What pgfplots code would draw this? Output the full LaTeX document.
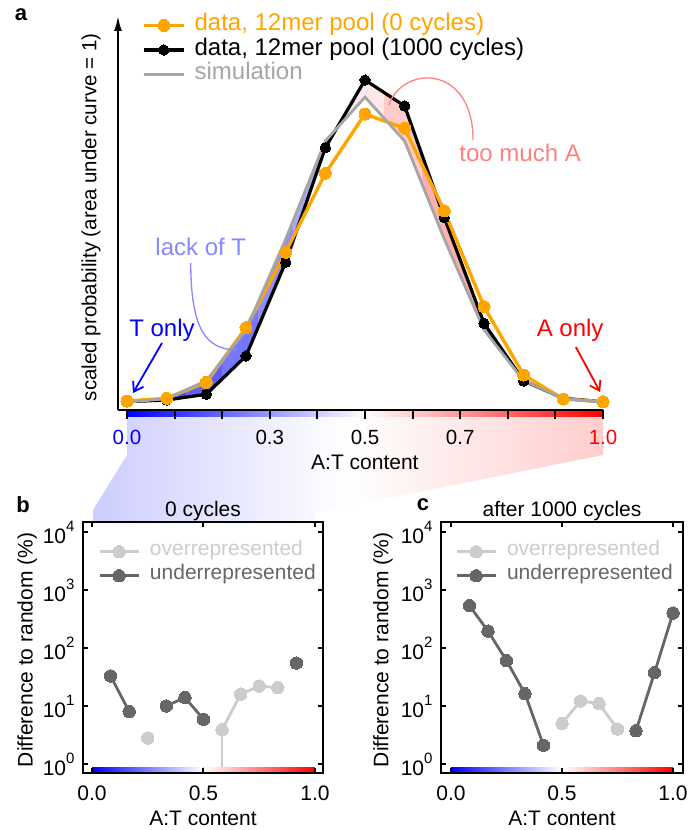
\documentclass[border=0pt]{standalone}
\usepackage{fontspec}
\setmainfont{Liberation Sans}
\usepackage{pgfplots}
\usepackage{pgfplotstable}
\pgfplotsset{compat=1.18}
\usepgfplotslibrary{fillbetween}
\usetikzlibrary{arrows.meta}

\definecolor{myorange}{RGB}{255,165,0}
\definecolor{simgray}{RGB}{165,165,165}
\definecolor{lightT}{RGB}{135,135,255}
\definecolor{lightA}{RGB}{255,128,128}
\definecolor{overc}{RGB}{204,204,204}
\definecolor{underc}{RGB}{102,102,102}
\definecolor{fillTa}{RGB}{70,70,255}
\definecolor{fillTb}{RGB}{185,185,255}
\definecolor{fillAa}{RGB}{255,232,232}
\definecolor{fillAb}{RGB}{255,175,175}
\definecolor{wedgeL}{RGB}{205,205,255}
\definecolor{wedgeR}{RGB}{255,205,205}

\newcommand\fs[1]{\fontsize{#1bp}{#1bp}\selectfont}
\newcommand\tp[1]{10\raisebox{0.57em}{\fs{15}#1}}

\pgfplotstableread{
x        o      k      s
0        0.013  0.007  0.003
0.08333  0.037  0.022  0.035
0.16667  0.179  0.073  0.193
0.25     0.664  0.413  0.645
0.33333  1.333  1.244  1.450
0.41667  2.034  2.261  2.320
0.5      2.560  2.862  2.710
0.58333  2.433  2.631  2.320
0.66667  1.700  1.640  1.450
0.75     0.850  0.703  0.645
0.83333  0.244  0.191  0.193
0.91667  0.031  0.037  0.035
1        0.007  0.007  0.003
}\toptab

\begin{document}
\begin{tikzpicture}
% zoom wedge (decoration)
\shade[left color=wedgeL, right color=wedgeR, middle color=white]
  (127bp,420bp) -- (603bp,420bp) -- (603bp,375bp) -- (315bp,317bp) -- (315bp,308bp) -- (93bp,308bp) -- (93bp,320bp) -- (127bp,375bp) -- cycle;

% ---------------- panel a ----------------
\begin{axis}[
  at={(118bp,420bp)}, anchor=south west, scale only axis,
  width=485bp, height=394bp,
  xmin=-0.0189, xmax=1, ymin=-0.0665, ymax=3.43,
  axis x line*=bottom, axis y line*=left,
  axis line style={line width=2bp},
  y axis line style={-{Latex[length=15bp,width=8bp]}},
  xtick={0,0.1,0.2,0.3,0.4,0.5,0.6,0.7,0.8,0.9,1},
  xticklabels={\textcolor{blue}{0.0},,,0.3,,0.5,,0.7,,,\textcolor{red}{1.0}},
  ytick=\empty,
  tick align=outside, major tick length=9bp, tick style={line width=2bp, black},
  xticklabel style={font=\fs{20.5}, yshift=-8bp},
  clip=false, axis on top,
  every axis x label/.style={at={(axis description cs:0.509,0)}, anchor=base, yshift=-60bp, font=\fs{21}},
  every axis y label/.style={at={(axis description cs:-0.0557,0.489)}, rotate=90, anchor=center, font=\fs{20.5}},
  xlabel={A:T content},
  ylabel={scaled probability (area under curve = 1)},
  legend style={at={(rel axis cs:0.0495,1.0076)}, anchor=north west, draw=none, fill=none,
    inner sep=0pt, font=\fs{24}, nodes={inner sep=0pt, text height=17.5bp, text depth=7bp},
    column sep=9bp, row sep=0pt},
  legend cell align=left,
  legend image code/.code={\draw[mark repeat=2, mark phase=2, #1] plot coordinates {(0bp,0bp) (20bp,0bp) (40bp,0bp)};},
]
% colour bar below the axis
\fill[left color=blue, right color=white] (axis cs:0,-0.0665) rectangle (axis cs:0.5,-0.1198);
\fill[left color=white, right color=red] (axis cs:0.5,-0.0665) rectangle (axis cs:1,-0.1198);

\addplot[draw=none, name path=sim, forget plot] table[x=x,y=s]{\toptab};
\addplot[draw=none, name path=thk, forget plot] table[x=x,y=k]{\toptab};
\addplot[fill=fillTa, draw=none, forget plot] fill between[of=sim and thk, soft clip={domain=0:0.125}];
\addplot[fill=fillTa!78!fillTb, draw=none, forget plot] fill between[of=sim and thk, soft clip={domain=0.125:0.2}];
\addplot[fill=fillTa!58!fillTb, draw=none, forget plot] fill between[of=sim and thk, soft clip={domain=0.2:0.275}];
\addplot[fill=fillTa!38!fillTb, draw=none, forget plot] fill between[of=sim and thk, soft clip={domain=0.275:0.35}];
\addplot[fill=fillTa!15!fillTb, draw=none, forget plot] fill between[of=sim and thk, soft clip={domain=0.35:0.45}];
\addplot[fill=fillAa, draw=none, forget plot] fill between[of=sim and thk, soft clip={domain=0.45:0.54}];
\addplot[fill=fillAa!50!fillAb, draw=none, forget plot] fill between[of=sim and thk, soft clip={domain=0.54:0.62}];
\addplot[fill=fillAb, draw=none, forget plot] fill between[of=sim and thk, soft clip={domain=0.62:0.8}];

\addplot[black, line width=3.2bp, mark=*, mark size=5.2bp, mark options={fill=black, line width=0bp}, forget plot]
  table[x=x,y=k]{\toptab};
\addplot[myorange, line width=3.4bp, mark=*, mark size=6bp, mark options={fill=myorange, draw=myorange, line width=0bp}, forget plot]
  table[x=x,y=o]{\toptab};
\addplot[simgray, line width=2.8bp, forget plot]
  table[x=x,y=s]{\toptab};

\addlegendimage{myorange, line width=3.4bp, mark=*, mark size=6bp, mark options={fill=myorange, draw=myorange, line width=0bp}}
\addlegendentry{\textcolor{myorange}{data, 12mer pool (0 cycles)}}
\addlegendimage{black, line width=3.2bp, mark=*, mark size=5.2bp, mark options={fill=black, line width=0bp}}
\addlegendentry{data, 12mer pool (1000 cycles)}
\addlegendimage{simgray, line width=2.8bp}
\addlegendentry{\textcolor{simgray}{simulation}}

% annotations
\node[text=lightT, font=\fs{24}] at (axis cs:0.155,1.382) {lack of T};
\draw[lightT, line width=1.3bp] (axis cs:0.134,1.237) .. controls (axis cs:0.134,0.62) and (axis cs:0.17,0.47) .. (axis cs:0.231,0.466);
\node[text=lightA, font=\fs{24}] at (axis cs:0.826,2.214) {too much A};
\draw[lightA, line width=1.3bp] (axis cs:0.727,2.33) .. controls (axis cs:0.727,3.0) and (axis cs:0.58,3.0) .. (axis cs:0.55,2.64);
\node[text=blue, font=\fs{24}] at (axis cs:0.0735,0.643) {T only};
\draw[blue, line width=1.8bp, -{Straight Barb[length=9bp,width=12bp]}] (axis cs:0.0735,0.528) -- (axis cs:0.0126,0.084);
\node[text=red, font=\fs{24}] at (axis cs:0.931,0.643) {A only};
\draw[red, line width=1.8bp, -{Straight Barb[length=9bp,width=12bp]}] (axis cs:0.943,0.492) -- (axis cs:0.994,0.093);
\end{axis}

% ---------------- panel b ----------------
\begin{axis}[
  ymode=log,
  at={(83bp,57bp)}, anchor=south west, scale only axis, width=240bp, height=251bp,
  xmin=-0.0404, xmax=1.036, ymin=0.7, ymax=14860, yminorticks=false,
  xtick={0,0.5,1}, xticklabels={0.0,0.5,1.0},
  ytick={1,10,100,1000,10000},
  yticklabels={\tp{0},\tp{1},\tp{2},\tp{3},\tp{4}},
  tick align=inside, xtick pos=both, ytick pos=both,
  major tick length=5bp, tick style={line width=2bp, black},
  axis line style={line width=2.5bp},
  axis on top, unbounded coords=jump,
  tick label style={font=\fs{21}},
  xticklabel style={yshift=-9bp},
  yticklabel style={xshift=-5bp},
  every axis x label/.style={at={(axis description cs:0.5,0)}, anchor=base, yshift=-52bp, font=\fs{21}},
  every axis y label/.style={at={(axis description cs:-0.233,0.49)}, rotate=90, anchor=center, font=\fs{21}},
  title style={at={(axis description cs:0.5,1)}, anchor=base, yshift=0bp, font=\fs{21}},
  xlabel={A:T content}, ylabel={Difference to random (\%)},
  title={0 cycles},
  legend style={at={(rel axis cs:0.0625,0.930)}, anchor=north west, draw=none, fill=none, inner sep=0pt,
    font=\fs{21}, nodes={inner sep=0pt, text height=16bp, text depth=8bp},
    column sep=10bp, row sep=0pt},
  legend cell align=left,
  legend image code/.code={\draw[mark repeat=2, mark phase=2, #1] plot coordinates {(0bp,0bp) (19.5bp,0bp) (39bp,0bp)};},
]
\addplot[overc, line width=2.8bp, mark=*, mark size=6.2bp, mark options={fill=overc, draw=overc, line width=0bp}]
  coordinates {(0.25,2.8) (0.4,nan) (0.58333,3.9) (0.66667,16) (0.75,22) (0.83333,20.7)};
\addlegendentry{\textcolor{overc}{overrepresented}}
\addplot[underc, line width=2.8bp, mark=*, mark size=6.2bp, mark options={fill=underc, draw=underc, line width=0bp}]
  coordinates {(0.08333,33) (0.16667,8.0) (0.25,nan) (0.33333,10) (0.41667,14) (0.5,5.9) (0.7,nan) (0.91667,55)};
\addlegendentry{\textcolor{underc}{underrepresented}}
\addplot[overc, line width=2.8bp, forget plot] coordinates {(0.58333,0.5) (0.58333,3.9)};
\fill[left color=blue, right color=white] (axis cs:0,0.7) rectangle (axis cs:0.5,0.888);
\fill[left color=white, right color=red] (axis cs:0.5,0.7) rectangle (axis cs:1,0.888);
\end{axis}

% ---------------- panel c ----------------
\begin{axis}[
  ymode=log,
  at={(441bp,57bp)}, anchor=south west, scale only axis, width=242bp, height=251bp,
  xmin=-0.045, xmax=1.045, ymin=0.7, ymax=14860, yminorticks=false,
  xtick={0,0.5,1}, xticklabels={0.0,0.5,1.0},
  ytick={1,10,100,1000,10000},
  yticklabels={\tp{0},\tp{1},\tp{2},\tp{3},\tp{4}},
  tick align=inside, xtick pos=both, ytick pos=both,
  major tick length=5bp, tick style={line width=2bp, black},
  axis line style={line width=2.5bp},
  axis on top, unbounded coords=jump,
  tick label style={font=\fs{21}},
  xticklabel style={yshift=-9bp},
  yticklabel style={xshift=-5bp},
  every axis x label/.style={at={(axis description cs:0.5,0)}, anchor=base, yshift=-52bp, font=\fs{21}},
  every axis y label/.style={at={(axis description cs:-0.24,0.49)}, rotate=90, anchor=center, font=\fs{21}},
  title style={at={(axis description cs:0.5,1)}, anchor=base, yshift=0bp, font=\fs{21}},
  xlabel={A:T content}, ylabel={Difference to random (\%)},
  title={after 1000 cycles},
  legend style={at={(rel axis cs:0.058,0.930)}, anchor=north west, draw=none, fill=none, inner sep=0pt,
    font=\fs{21}, nodes={inner sep=0pt, text height=16bp, text depth=8bp},
    column sep=10bp, row sep=0pt},
  legend cell align=left,
  legend image code/.code={\draw[mark repeat=2, mark phase=2, #1] plot coordinates {(0bp,0bp) (19.5bp,0bp) (39bp,0bp)};},
]
\addplot[overc, line width=2.8bp, mark=*, mark size=6.2bp, mark options={fill=overc, draw=overc, line width=0bp}]
  coordinates {(0.5,5.0) (0.58333,12.2) (0.66667,11) (0.75,4.0)};
\addlegendentry{\textcolor{overc}{overrepresented}}
\addplot[underc, line width=2.8bp, mark=*, mark size=6.2bp, mark options={fill=underc, draw=underc, line width=0bp}]
  coordinates {(0.08333,537) (0.16667,196) (0.25,60.5) (0.33333,16.3) (0.41667,2.1) (0.6,nan) (0.83333,3.75) (0.91667,37.5) (1,400)};
\addlegendentry{\textcolor{underc}{underrepresented}}
\fill[left color=blue, right color=white] (axis cs:0,0.7) rectangle (axis cs:0.5,0.888);
\fill[left color=white, right color=red] (axis cs:0.5,0.7) rectangle (axis cs:1,0.888);
\end{axis}

% panel letters
\node[font=\bfseries\fs{22}] at (21bp,815bp) {a};
\node[font=\bfseries\fs{22}] at (23bp,325bp) {b};
\node[font=\bfseries\fs{22}] at (423bp,325bp) {c};
\pgfresetboundingbox
\path[use as bounding box] (0bp,0bp) rectangle (688bp,830bp);
\end{tikzpicture}
\end{document}
